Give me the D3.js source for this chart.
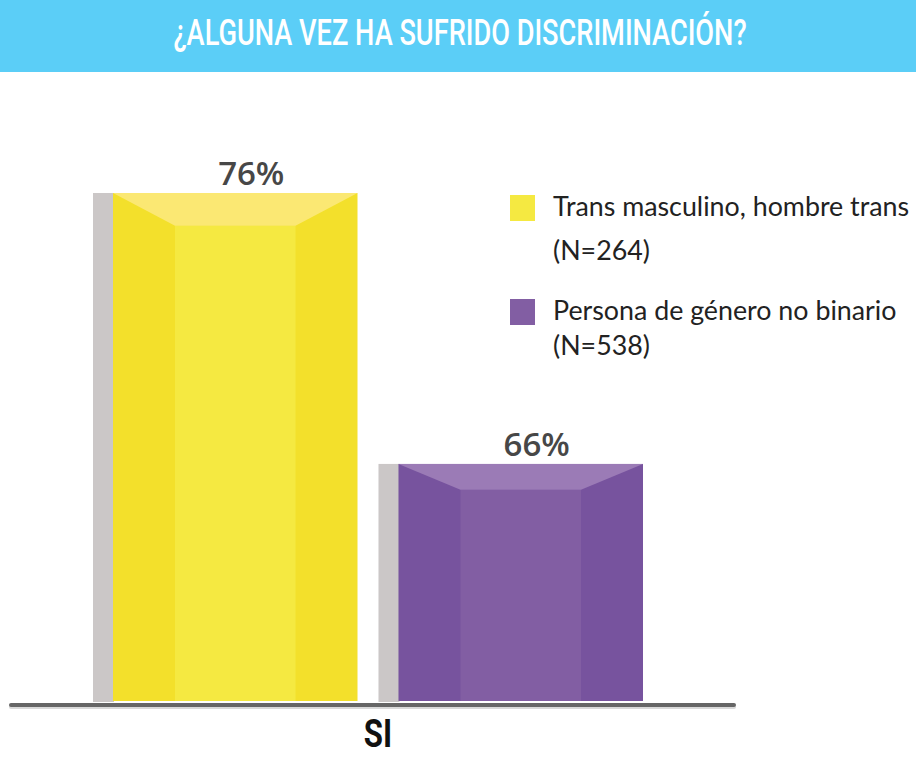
<!DOCTYPE html>
<html>
<head>
<meta charset="utf-8">
<script src="https://cdn.jsdelivr.net/npm/d3@7/dist/d3.min.js"></script>
<style>
  html, body { margin: 0; padding: 0; background: #fff; }
  svg { display: block; }
</style>
</head>
<body>
<svg id="chart" width="916" height="757"></svg>
<script>
// ---- data ----
const title = "¿ALGUNA VEZ HA SUFRIDO DISCRIMINACIÓN?";
const categories = ["SI"];
const series = ["Trans masculino, hombre trans", "Persona de género no binario"];
const seriesN = ["(N=264)", "(N=538)"];
const values = [76, 66];
const valueLabels = ["76%", "66%"];

// ---- styles ----
const palette = [
  { side: "#F3E02B", center: "#F5E941", top: "#FBE873", legend: "#F5E941" },
  { side: "#77539E", center: "#825EA3", top: "#9B7BB6", legend: "#825EA3" }
];
const grey = "#CBC7C7";
const condensed = "Roboto, 'DejaVu Sans', sans-serif";

const svg = d3.select("#chart");

// header
svg.append("rect").attr("x", 0).attr("y", 0).attr("width", 916).attr("height", 72).attr("fill", "#5BCEF7");
const tg = svg.append("g").attr("transform", "translate(460,45) scale(0.735,1)");
tg.append("text")
  .attr("x", 0).attr("y", 0)
  .attr("text-anchor", "middle")
  .attr("font-family", condensed)
  .attr("font-weight", 500)
  .attr("font-size", 37)
  .attr("fill", "#fff")
  .text(title);

// scales (chart is drawn on a truncated axis)
const baseY = 701;
const y = d3.scaleLinear().domain([57.25, 76]).range([baseY, 193]);
const x = d3.scaleBand().domain(series).range([93, 643]).paddingInner(0.0735);
const xc = d3.scaleBand().domain(categories).range([93, 663]);

const stripW = 20, bevelX = 62;

const g = svg.append("g");
series.forEach((s, i) => {
  const x0 = x(s), bw = x.bandwidth();
  const top = y(values[i]);
  const h = baseY - top;
  const depth = 20 + h * 0.025;
  const fx0 = x0 + stripW, fx1 = x0 + bw;
  const c = palette[i];
  g.append("rect").attr("x", x0).attr("y", top).attr("width", stripW + 1).attr("height", h + 1).attr("fill", grey);
  g.append("rect").attr("x", fx0).attr("y", top).attr("width", fx1 - fx0).attr("height", h).attr("fill", c.side);
  g.append("rect").attr("x", fx0 + bevelX).attr("y", top + depth)
    .attr("width", fx1 - fx0 - 2 * bevelX).attr("height", h - depth).attr("fill", c.center);
  g.append("path")
    .attr("d", `M${fx0},${top}L${fx1},${top}L${fx1 - bevelX},${top + depth}L${fx0 + bevelX},${top + depth}Z`)
    .attr("fill", c.top);
  g.append("text")
    .attr("x", (fx0 + fx1) / 2 + 16).attr("y", top - 8)
    .attr("text-anchor", "middle")
    .attr("font-family", "'Open Sans', sans-serif")
    .attr("font-weight", 600)
    .attr("font-size", 33)
    .attr("fill", "#474747")
    .text(valueLabels[i]);
});

// baseline
svg.append("line").attr("x1", 11).attr("x2", 734).attr("y1", 707).attr("y2", 707)
  .attr("stroke", "#d9d9d9").attr("stroke-width", 4).attr("stroke-linecap", "round");
svg.append("line").attr("x1", 11).attr("x2", 734).attr("y1", 705).attr("y2", 705)
  .attr("stroke", "#666").attr("stroke-width", 4).attr("stroke-linecap", "round");

// category axis
const axis = svg.append("g").attr("transform", `translate(0,${705})`)
  .call(d3.axisBottom(xc).tickSize(0).tickPadding(0));
axis.select(".domain").remove();
axis.selectAll(".tick text")
  .attr("dy", 0).attr("y", 0)
  .attr("transform", "translate(0,42) scale(0.82,1)")
  .attr("font-family", condensed)
  .attr("font-weight", 700)
  .attr("font-size", 38)
  .attr("fill", "#111");

// legend
const legendY = [195, 299];
const legFont = "Lato, sans-serif", legSize = 26.8;
const leg = svg.append("g");
series.forEach((s, i) => {
  leg.append("rect").attr("x", 510).attr("y", legendY[i]).attr("width", 25).attr("height", 26).attr("fill", palette[i].legend);
  leg.append("text").attr("x", 553).attr("y", legendY[i] + 21)
    .attr("font-family", legFont).attr("font-size", legSize).attr("fill", "#222")
    .text(s);
});
leg.append("text").attr("x", 553).attr("y", 260)
  .attr("font-family", legFont).attr("font-size", legSize).attr("fill", "#222").text(seriesN[0]);
leg.append("text").attr("x", 553).attr("y", 355)
  .attr("font-family", legFont).attr("font-size", legSize).attr("fill", "#222").text(seriesN[1]);
</script>
</body>
</html>
